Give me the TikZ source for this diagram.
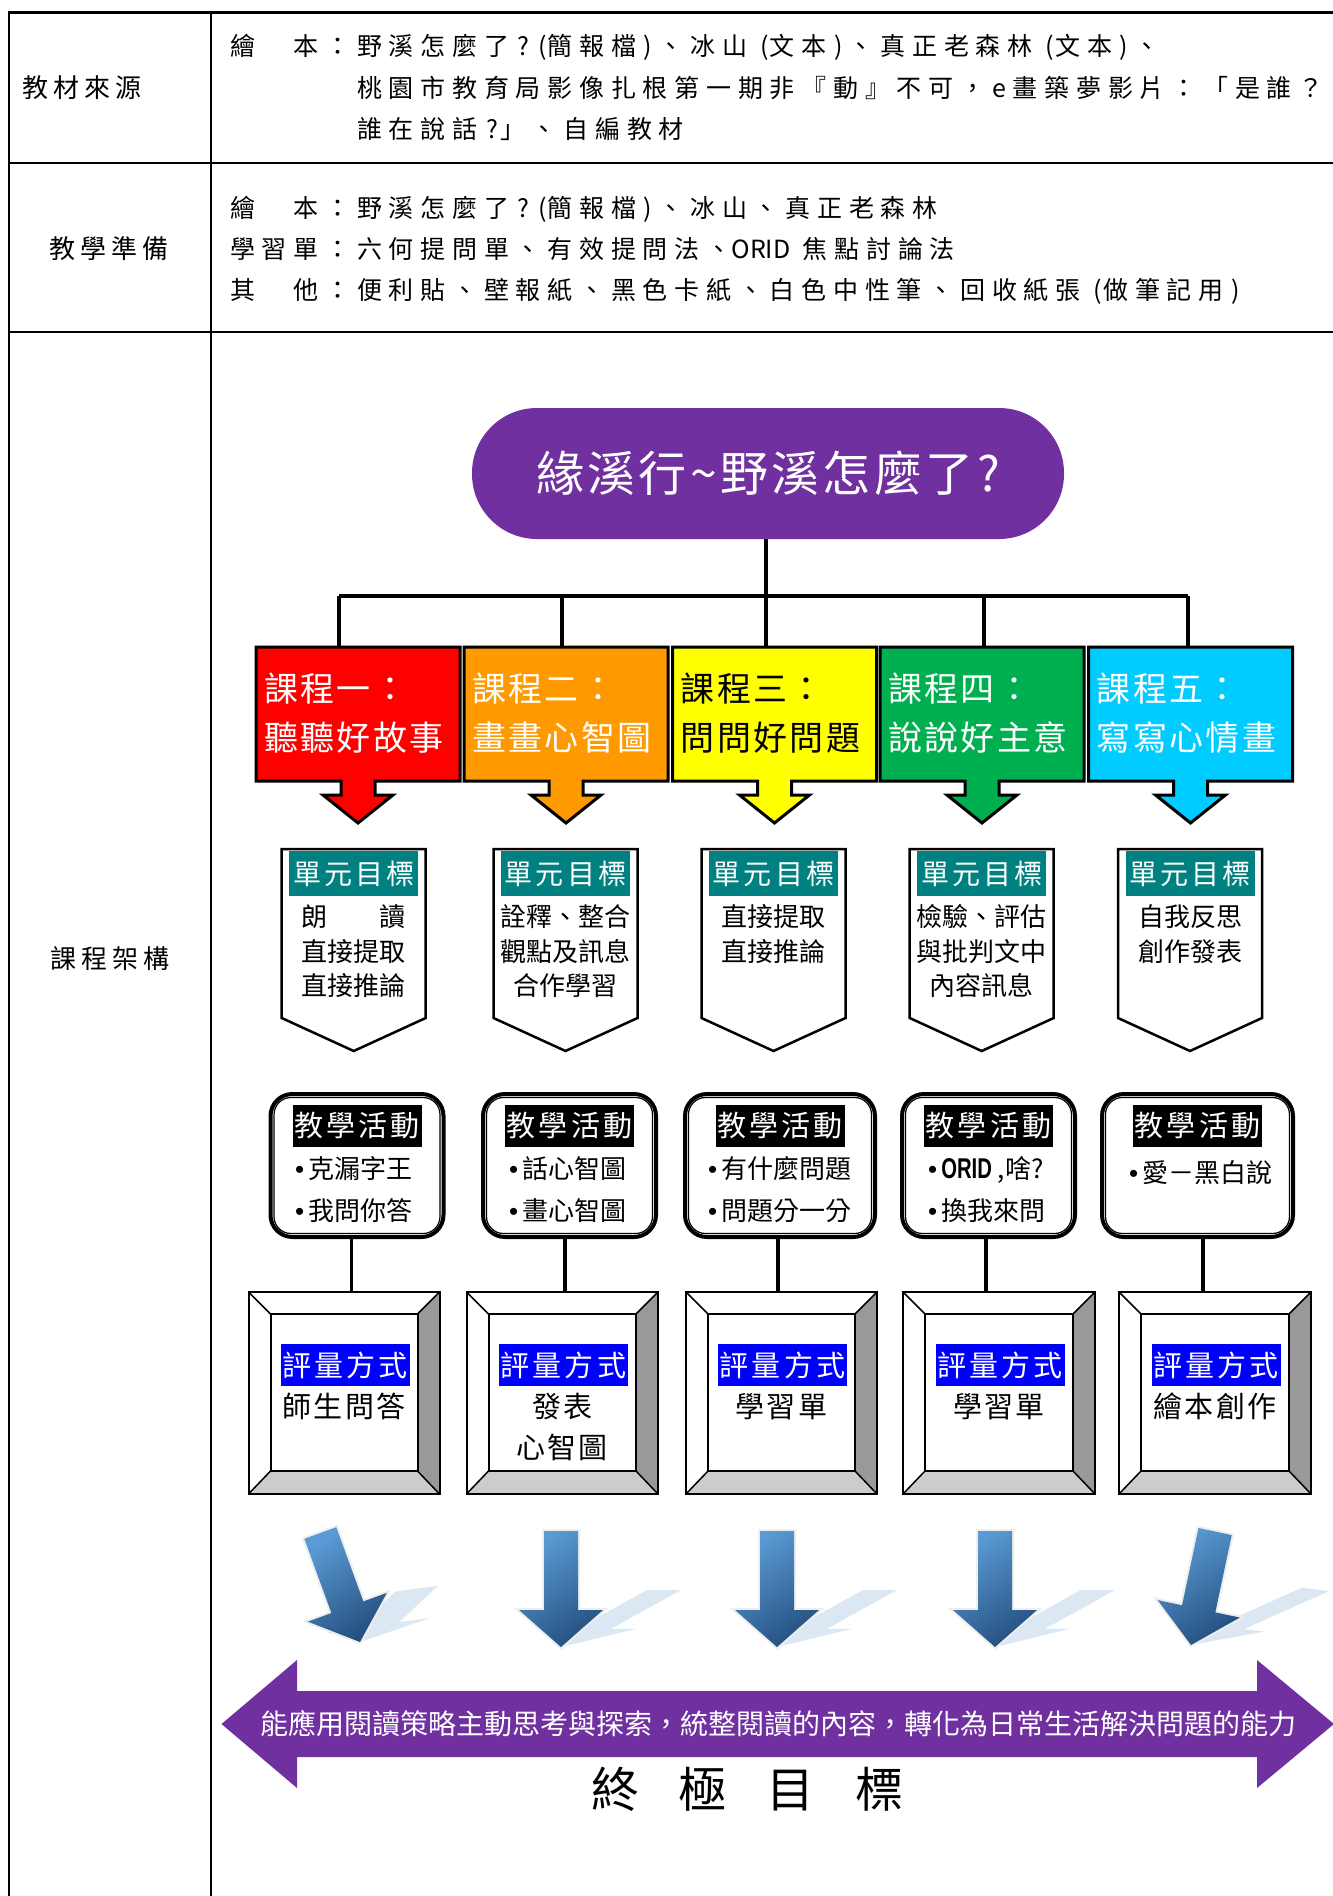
\documentclass[tikz,border=0pt]{standalone}
\usepackage{fontspec}
\usepackage{graphicx}
\setmainfont{Noto Sans CJK TC}
\newfontfamily\ftbl[LetterSpace=27]{Noto Sans CJK TC}
\newfontfamily\flab[LetterSpace=20]{Noto Sans CJK TC}
\newfontfamily\fsp[LetterSpace=7]{Noto Sans CJK TC}
\newfontfamily\fhd[LetterSpace=11]{Noto Sans CJK TC}
\newfontfamily\fpl{Noto Sans CJK TC}
\newfontfamily\flatin{Liberation Sans}
\newcommand\bul{{\flatin •}\hspace{4pt}}
\newcommand\lsp{\hspace{6.75pt}}
\newcommand\hwo{\makebox[15.8pt][r]{\fpl (\hspace{1pt}}}
\newcommand\hwc{\makebox[15.8pt][l]{\fpl \hspace{1pt})}}
\newcommand\hwq{\makebox[15.8pt][c]{\fpl ?}}
\usetikzlibrary{calc}
\definecolor{purp}{HTML}{7030A0}
\definecolor{cred}{HTML}{FF0000}
\definecolor{corange}{HTML}{FF9900}
\definecolor{cyellow}{HTML}{FFFF00}
\definecolor{cgreen}{HTML}{00B050}
\definecolor{ccyan}{HTML}{00CCFF}
\definecolor{tealx}{HTML}{008080}
\definecolor{bluex}{HTML}{0000FF}
\definecolor{bevd}{HTML}{999999}
\definecolor{bevl}{HTML}{CCCCCC}
\definecolor{arrl}{HTML}{5B9BD5}
\definecolor{arrd}{HTML}{24507F}
\definecolor{shadowblue}{HTML}{DCE7F4}
\definecolor{glow}{HTML}{EEEEEE}

\newcommand\crsbox[6]{%
  \filldraw[fill=#3,line width=3] ({#2-102},647) -- ({#2+102},647) -- ({#2+102},781) -- ({#2+17},781) -- ({#2+17},795) -- ({#2+35},795) -- (#2,823) -- ({#2-35},795) -- ({#2-17},795) -- ({#2-17},781) -- ({#2-102},781) -- cycle;
  \node[minimum width=204,minimum height=134,inner sep=0] (#1) at (#2,714) {};
  \node[crstext,text=#4] (#1a) at ({#2-94},701.6) {#5};
  \node[crstext,text=#4] (#1b) at ({#2-94},750.6) {#6};}

\newcommand\unitbox[2]{%
  \filldraw[fill=white,line width=2.5] ({#2-72},849) -- ({#2+72},849) -- ({#2+72},1018) -- (#2,1051) -- ({#2-72},1018) -- cycle;
  \node[unithdr] (#1) at (#2,873.5) {單元目標};}

\newcommand\actbox[3]{%
  \node[actframe,minimum width=#3] (#1) at (#2,1165.5) {};
  \draw[line width=1.2,rounded corners=17] ($(#1.south west)+(5.5,-5.5)$) rectangle ($(#1.north east)+(-5.5,5.5)$);
  \node[acthdr] (#1h) at (#2,1126) {教學活動};}

\newcommand\evalbox[3]{%
  \fill[bevd] (#3,1292) -- (#3,1494) -- ({#3-22},1471) -- ({#3-22},1314) -- cycle;
  \fill[bevl] (#2,1494) -- (#3,1494) -- ({#3-22},1471) -- ({#2+22},1471) -- cycle;
  \draw[line width=2] (#2,1292) rectangle (#3,1494);
  \draw[line width=2] ({#2+22},1314) rectangle ({#3-22},1471);
  \draw[line width=1.5] (#2,1292) -- ({#2+22},1314) (#3,1292) -- ({#3-22},1314) (#2,1494) -- ({#2+22},1471) (#3,1494) -- ({#3-22},1471);
  \node[minimum width={#3-#2},minimum height=202,inner sep=0] (#1) at ({(#2+#3)/2},1393) {};
  \node[evalhdr] (#1h) at ({(#2+#3)/2+1},1365) {評量方式};}

\newcommand\bluearr[3]{%
  \begin{scope}[shift={(#1,#2)}]
    \begin{scope}[yscale=0.49,xslant=0.885,rotate=#3]
      \fill[shadowblue] (-17,-116) -- (17,-116) -- (17,-37) -- (42,-37) -- (0,0) -- (-42,-37) -- (-17,-37) -- cycle;
    \end{scope}
    \begin{scope}[rotate=#3]
      \draw[glow,line width=4] (-17,-116) -- (17,-116) -- (17,-37) -- (42,-37) -- (0,0) -- (-42,-37) -- (-17,-37) -- cycle;
      \shade[top color=arrl,bottom color=arrd,shading angle=35] (-17,-116) -- (17,-116) -- (17,-37) -- (42,-37) -- (0,0) -- (-42,-37) -- (-17,-37) -- cycle;
    \end{scope}
  \end{scope}}

\begin{document}
\begin{tikzpicture}[x=1pt,y=-1pt,
  conn/.style={line width=3.5},
  tbltext/.style={anchor=base west,inner sep=0,font=\ftbl\fontsize{25}{30}\selectfont},
  labtext/.style={anchor=base,inner sep=0,font=\flab\fontsize{26}{30}\selectfont},
  titlebox/.style={fill=purp,rounded corners=65,minimum width=592,minimum height=131,inner sep=0,text=white,font=\fsp\fontsize{48}{56}\selectfont},
  crstext/.style={anchor=base west,inner sep=0,font=\fsp\fontsize{34}{40}\selectfont},
  unithdr/.style={fill=tealx,text=white,minimum width=129,minimum height=45,inner sep=0,font=\fhd\fontsize{28}{32}\selectfont},
  unittext/.style={anchor=base,inner sep=0,font=\fpl\fontsize{26}{30}\selectfont},
  actframe/.style={draw,fill=white,line width=4,rounded corners=22,minimum height=143,inner sep=0},
  acthdr/.style={fill=black,text=white,minimum width=129,minimum height=42,inner sep=0,font=\fhd\fontsize{29}{32}\selectfont},
  bultext/.style={anchor=base west,inner sep=0,font=\fpl\fontsize{26}{30}\selectfont},
  evalhdr/.style={fill=bluex,text=white,minimum width=129,minimum height=42,inner sep=0,font=\fhd\fontsize{29}{32}\selectfont},
  evaltext/.style={anchor=base,inner sep=0,font=\fsp\fontsize{29}{32}\selectfont},
  goaltext/.style={anchor=base,inner sep=0,text=white,font=\fpl\fontsize{28}{32}\selectfont},
  bigtext/.style={anchor=base,inner sep=0,font=\fpl\fontsize{48}{56}\selectfont}]
\useasboundingbox (0,0) rectangle (1333,1896);
\fill[white] (0,0) rectangle (1333,1896);

% ---------- table ----------
\draw[line width=3] (8,12) -- (1333,12);
\draw[line width=2.5] (8,163) -- (1333,163);
\draw[line width=2.5] (8,332) -- (1333,332);
\draw[line width=2] (9,11) -- (9,1896);
\draw[line width=2] (211,11) -- (211,1896);

\node[labtext,anchor=base west] (lab1) at (22,97.6) {教材來源};
\node[labtext] (lab2) at (109,258.6) {教學準備};
\node[labtext] (lab3) at (110,968.6) {課程架構};

\node[tbltext] (r1a) at (230,55.3) {繪　本：野溪怎麼了\lsp\hwq\hwo 簡報檔\lsp\hwc 、冰山\lsp\hwo 文本\lsp\hwc 、真正老森林\lsp\hwo 文本\lsp\hwc 、};
\node[tbltext] (r1b) at (357,97.3) {桃園市教育局影像扎根第一期非『動』不可，e畫築夢影片：「是誰？};
\node[tbltext] (r1c) at (357,138.8) {誰在說話\lsp\hwq 」、自編教材};
\node[tbltext] (r2a) at (230,217.3) {繪　本：野溪怎麼了\lsp\hwq\hwo 簡報檔\lsp\hwc 、冰山、真正老森林};
\node[tbltext] (r2b) at (230,258.3) {學習單：六何提問單、有效提問法、{\fpl ORID} 焦點討論法};
\node[tbltext] (r2c) at (230,299.3) {其　他：便利貼、壁報紙、黑色卡紙、白色中性筆、回收紙張\lsp\hwo 做筆記用\lsp\hwc};

% ---------- title and tree ----------
\node[titlebox] (title) at (768,473.5) {緣溪行\textasciitilde 野溪怎麼了?};
\coordinate (hub) at (766,596);
\coordinate (j1) at (339,596);
\coordinate (j2) at (562,596);
\coordinate (j4) at (984,596);
\coordinate (j5) at (1188,596);
\draw[conn] (title.south -| hub) -- (hub);
\draw[conn] (j1) -- (j5);

\crsbox{c1}{358}{cred}{white}{課程一：}{聽聽好故事}
\crsbox{c2}{566}{corange}{white}{課程二：}{畫畫心智圖}
\crsbox{c3}{774.5}{cyellow}{black}{課程三：}{問問好問題}
\crsbox{c4}{982}{cgreen}{white}{課程四：}{說說好主意}
\crsbox{c5}{1190.5}{ccyan}{white}{課程五：}{寫寫心情畫}

\draw[conn] (j1) -- (j1 |- c1.north);
\draw[conn] (j2) -- (j2 |- c2.north);
\draw[conn] (hub) -- (hub |- c3.north);
\draw[conn] (j4) -- (j4 |- c4.north);
\draw[conn] (j5) -- (j5 |- c5.north);

% ---------- unit goals ----------
\unitbox{u1}{353.7}
\node[unittext] (u1a) at (353.7,926.6) {\makebox[104pt][s]{朗\hfill 讀}};
\node[unittext] (u1b) at (353.7,961.6) {直接提取};
\node[unittext] (u1c) at (353.7,995.6) {直接推論};
\unitbox{u2}{565.5}
\node[unittext] (u2a) at (565.5,926.6) {詮釋、整合};
\node[unittext] (u2b) at (565.5,961.6) {觀點及訊息};
\node[unittext] (u2c) at (565.5,995.6) {合作學習};
\unitbox{u3}{773.5}
\node[unittext] (u3a) at (773.5,926.6) {直接提取};
\node[unittext] (u3b) at (773.5,961.6) {直接推論};
\unitbox{u4}{981.7}
\node[unittext] (u4a) at (981.7,926.6) {檢驗、評估};
\node[unittext] (u4b) at (981.7,961.6) {與批判文中};
\node[unittext] (u4c) at (981.7,995.6) {內容訊息};
\unitbox{u5}{1190}
\node[unittext] (u5a) at (1190,926.6) {自我反思};
\node[unittext] (u5b) at (1190,961.6) {創作發表};

% ---------- activities ----------
\actbox{a1}{357}{173}
\node[bultext] (a1a) at (295,1178) {\bul 克漏字王};
\node[bultext] (a1b) at (295,1220) {\bul 我問你答};
\actbox{a2}{569.5}{173}
\node[bultext] (a2a) at (509,1178) {\bul 話心智圖};
\node[bultext] (a2b) at (509,1220) {\bul 畫心智圖};
\actbox{a3}{780}{190}
\node[bultext] (a3a) at (708,1178) {\bul 有什麼問題};
\node[bultext] (a3b) at (708,1220) {\bul 問題分一分};
\actbox{a4}{988.5}{173}
\node[bultext] (a4a) at (928,1178) {\bul{\flatin\bfseries\scalebox{0.78}[1.1]{ORID}} ,啥?};
\node[bultext] (a4b) at (928,1220) {\bul 換我來問};
\actbox{a5}{1197.5}{191}
\node[bultext] (a5a) at (1129,1182) {\bul 愛－黑白說};

% ---------- evaluation ----------
\evalbox{e1}{248.5}{439.5}
\node[evaltext] (e1a) at (344,1417.7) {師生問答};
\evalbox{e2}{466.5}{658}
\node[evaltext] (e2a) at (562.3,1417.7) {發表};
\node[evaltext] (e2b) at (562.3,1458.7) {心智圖};
\evalbox{e3}{686}{877}
\node[evaltext] (e3a) at (781.5,1417.7) {學習單};
\evalbox{e4}{903}{1095}
\node[evaltext] (e4a) at (999,1417.7) {學習單};
\evalbox{e5}{1119}{1311}
\node[evaltext] (e5a) at (1215,1417.7) {繪本創作};

\coordinate (k1) at (351.5,0);
\coordinate (k2) at (565,0);
\coordinate (k3) at (778,0);
\coordinate (k4) at (986,0);
\coordinate (k5) at (1203,0);
\draw[conn] (a1.south -| k1) -- (e1.north -| k1);
\draw[conn] (a2.south -| k2) -- (e2.north -| k2);
\draw[conn] (a3.south -| k3) -- (e3.north -| k3);
\draw[conn] (a4.south -| k4) -- (e4.north -| k4);
\draw[conn] (a5.south -| k5) -- (e5.north -| k5);

% ---------- blue arrows ----------
\bluearr{360}{1642}{20}
\bluearr{561}{1647}{0}
\bluearr{777}{1647}{0}
\bluearr{995}{1647}{0}
\bluearr{1191}{1645}{-12}

% ---------- final goal ----------
\fill[purp] (221.5,1724) -- (297,1660) -- (297,1691) -- (1257,1691) -- (1257,1660) -- (1334,1724) -- (1257,1788) -- (1257,1757) -- (297,1757) -- (297,1788) -- cycle;
\node[goaltext] (goal) at (778,1734.4) {能應用閱讀策略主動思考與探索，統整閱讀的內容，轉化為日常生活解決問題的能力};
\node[bigtext] (final) at (747,1807) {終\hspace{40pt}極\hspace{40pt}目\hspace{40pt}標};
\end{tikzpicture}
\end{document}
